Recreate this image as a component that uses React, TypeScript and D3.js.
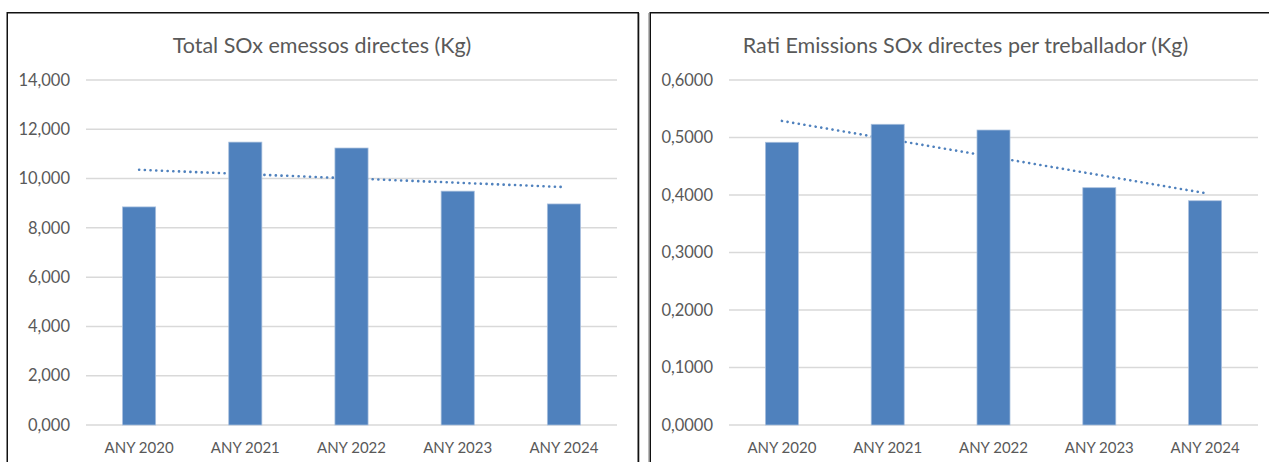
import React from "react";
import * as d3 from "d3";

const categories = ["ANY 2020", "ANY 2021", "ANY 2022", "ANY 2023", "ANY 2024"];
const totalSox = [8.85, 11.48, 11.24, 9.49, 8.97];
const ratioSox = [0.4917, 0.523, 0.513, 0.4127, 0.39];
const leftTicks = [0, 2, 4, 6, 8, 10, 12, 14];
const rightTicks = [0, 0.1, 0.2, 0.3, 0.4, 0.5, 0.6];
const leftTitle = "Total SOx emessos directes (Kg)";
const rightTitle = "Rati Emissions SOx directes per treballador (Kg)";

const FONT = "Lato, 'Open Sans', sans-serif";
const TEXT = "#595959";
const BAR = "#4f81bd";

type ChartProps = {
  x0: number;
  boxW: number;
  plotL: number;
  plotR: number;
  title: string;
  values: number[];
  ticks: number[];
  decimals: number;
};

function Chart({ x0, boxW, plotL, plotR, title, values, ticks, decimals }: ChartProps) {
  const top = 80;
  const bottom = 425;
  const x = d3
    .scaleBand<string>()
    .domain(categories)
    .range([plotL, plotR])
    .paddingInner(0.688)
    .paddingOuter(0.344);
  const y = d3
    .scaleLinear()
    .domain([ticks[0], ticks[ticks.length - 1]])
    .range([bottom, top]);
  const fmt = (v: number) => d3.format(`.${decimals}f`)(v).replace(".", ",");

  // linear trendline (least squares)
  const idx = values.map((_, i) => i);
  const mx = d3.mean(idx) as number;
  const my = d3.mean(values) as number;
  const slope =
    d3.sum(idx.map((i) => (i - mx) * (values[i] - my))) /
    d3.sum(idx.map((i) => (i - mx) * (i - mx)));
  const trend = idx.map((i) => ({
    cx: (x(categories[i]) as number) + x.bandwidth() / 2,
    v: my + slope * (i - mx),
  }));
  const line = d3
    .line<{ cx: number; v: number }>()
    .x((d) => d.cx)
    .y((d) => y(d.v));

  return (
    <g>
      <rect x={x0 + 0.75} y={12.75} width={boxW} height={480} fill="#fff" stroke="#111" strokeWidth={1.5} />
      <text
        x={x0 + boxW / 2}
        y={53}
        textAnchor="middle"
        fontFamily={FONT}
        fontSize={21.5}
        fill={TEXT}
      >
        {title}
      </text>
      {ticks.map((t) => (
        <g key={t}>
          <line x1={plotL} x2={plotR} y1={y(t)} y2={y(t)} stroke="#d9d9d9" strokeWidth={1.5} />
          <text
            x={plotL - 16}
            y={y(t)}
            dy="0.35em"
            textAnchor="end"
            fontFamily={FONT}
            fontSize={16.5}
            fill={TEXT}
          >
            {fmt(t)}
          </text>
        </g>
      ))}
      <path
        d={line(trend) as string}
        fill="none"
        stroke={BAR}
        strokeWidth={2.6}
        strokeDasharray="0.1 5.6"
        strokeLinecap="round"
      />
      {values.map((v, i) => (
        <rect
          key={categories[i]}
          x={x(categories[i])}
          y={y(v)}
          width={x.bandwidth()}
          height={y(0) - y(v)}
          fill={BAR}
          stroke="#a9c0de"
          strokeWidth={0.75}
        />
      ))}
      {categories.map((c) => (
        <text
          key={c}
          x={(x(c) as number) + x.bandwidth() / 2}
          y={453}
          textAnchor="middle"
          fontFamily={FONT}
          fontSize={15}
          fill={TEXT}
        >
          {c}
        </text>
      ))}
    </g>
  );
}

export default function App() {
  return (
    <svg
      width={1269}
      height={462}
      style={{ position: "absolute", left: 0, top: 0, display: "block", background: "#fff" }}
    >
      <rect x={0} y={0} width={1269} height={462} fill="#fff" />
      <Chart
        x0={6.5}
        boxW={631}
        plotL={86}
        plotR={617}
        title={leftTitle}
        values={totalSox}
        ticks={leftTicks}
        decimals={3}
      />
      <line x1={639.5} x2={639.5} y1={13} y2={462} stroke="#bbb" strokeWidth={1} />
      <line x1={648.5} x2={648.5} y1={13} y2={462} stroke="#bbb" strokeWidth={1} />
      <Chart
        x0={649.5}
        boxW={632}
        plotL={729}
        plotR={1258}
        title={rightTitle}
        values={ratioSox}
        ticks={rightTicks}
        decimals={4}
      />
    </svg>
  );
}
